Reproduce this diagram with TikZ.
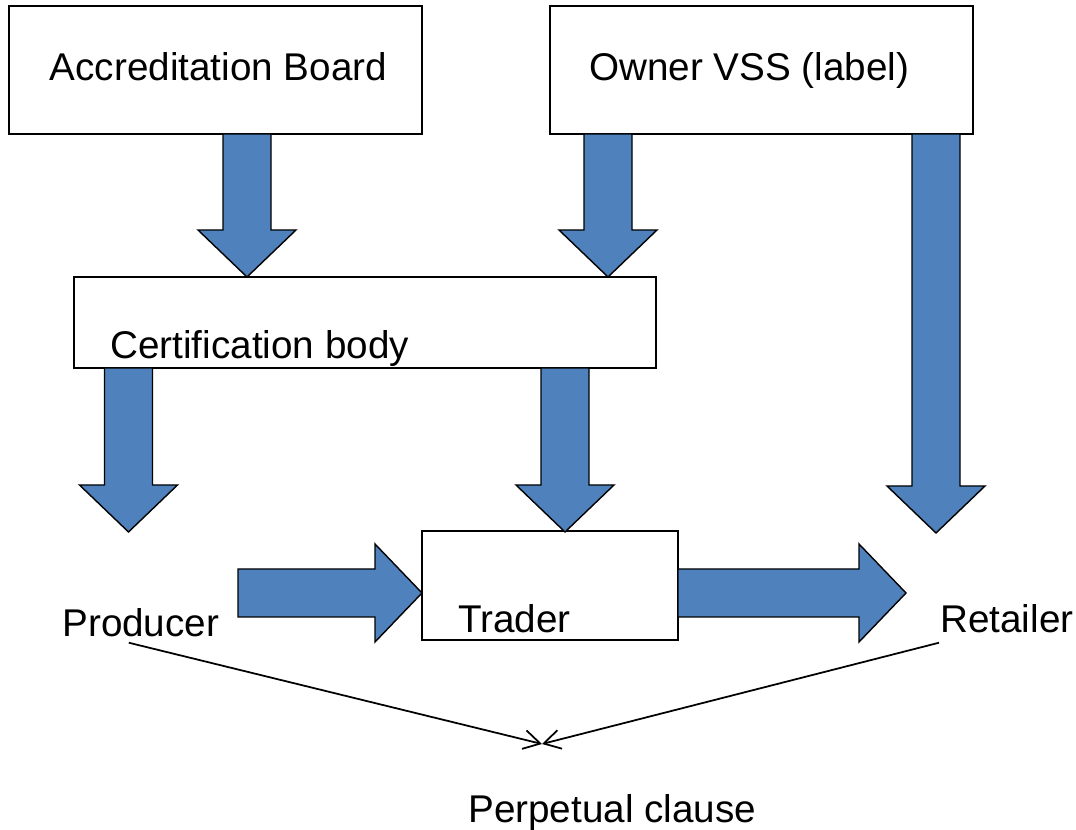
\documentclass[tikz,border=0pt]{standalone}
\usepackage{fontspec}
\setmainfont{Liberation Sans}
\usetikzlibrary{arrows.meta}

\definecolor{arrowblue}{RGB}{79,129,189}

\tikzset{
  box/.style={draw, line width=1pt, inner sep=0pt},
  lbl/.style={anchor=base west, inner sep=0pt, font=\fontsize{22}{26}\selectfont},
  blockarrow/.style={fill=arrowblue, draw=black, line width=0.8pt, line join=miter},
  link/.style={line width=1pt, -{Straight Barb[length=0.33cm, width=0.38cm]}}
}

% fat arrows (units are the picture's own: 1 unit = 0.02cm)
% shaft half width 24, head half width 49, head length 47
\newcommand{\blockdown}[3]{% centre x, top y, tip y
  \filldraw[blockarrow] (#1-24,#2) -- (#1+24,#2) -- (#1+24,#3-47) -- (#1+49,#3-47)
    -- (#1,#3) -- (#1-49,#3-47) -- (#1-24,#3-47) -- cycle;}
\newcommand{\blockright}[3]{% left x, centre y, tip x
  \filldraw[blockarrow] (#1,#2-24) -- (#3-47,#2-24) -- (#3-47,#2-49) -- (#3,#2)
    -- (#3-47,#2+49) -- (#3-47,#2+24) -- (#1,#2+24) -- cycle;}

\begin{document}
\begin{tikzpicture}[x=0.02cm, y=-0.02cm]
  \useasboundingbox (0,0) rectangle (1076,830);

  % Boxes
  \node[box, minimum width=8.26cm, minimum height=2.56cm] (acc) at (215.5,70) {};
  \node[box, minimum width=8.46cm, minimum height=2.56cm] (owner) at (761.5,70) {};
  \node[box, minimum width=11.65cm, minimum height=1.82cm] (cert) at (365,322.5) {};
  \node[box, minimum width=5.12cm, minimum height=2.18cm] (trader) at (550,585.5) {};

  % Texts
  \node[lbl] (acctext) at (49.5,81) {Accreditation Board};
  \node[lbl] (ownertext) at (589,81) {Owner VSS (label)};
  \node[lbl] (certtext) at (110,359) {Certification body};
  \node[lbl] (tradertext) at (458,633) {Trader};
  \node[lbl] (prod) at (62,637) {Producer};
  \node[lbl] (ret) at (940,633) {Retailer};
  \node[lbl] (clause) at (468,823) {Perpetual clause};

  % Fat arrows down
  \blockdown{247}{134}{277}
  \blockdown{608}{134}{277}
  \blockdown{936}{134}{533}
  \blockdown{128.5}{368}{532}
  \blockdown{565}{368}{532}

  % Fat arrows right
  \blockright{238}{593}{422}
  \blockright{678}{593}{906}

  % Lines to the perpetual clause
  \coordinate (meet) at (542,744);
  \draw[link] ([shift={(-12,5)}]prod.south) -- (meet);
  \draw[link] ([shift={(-1,9)}]ret.south west) -- (meet);
\end{tikzpicture}
\end{document}
